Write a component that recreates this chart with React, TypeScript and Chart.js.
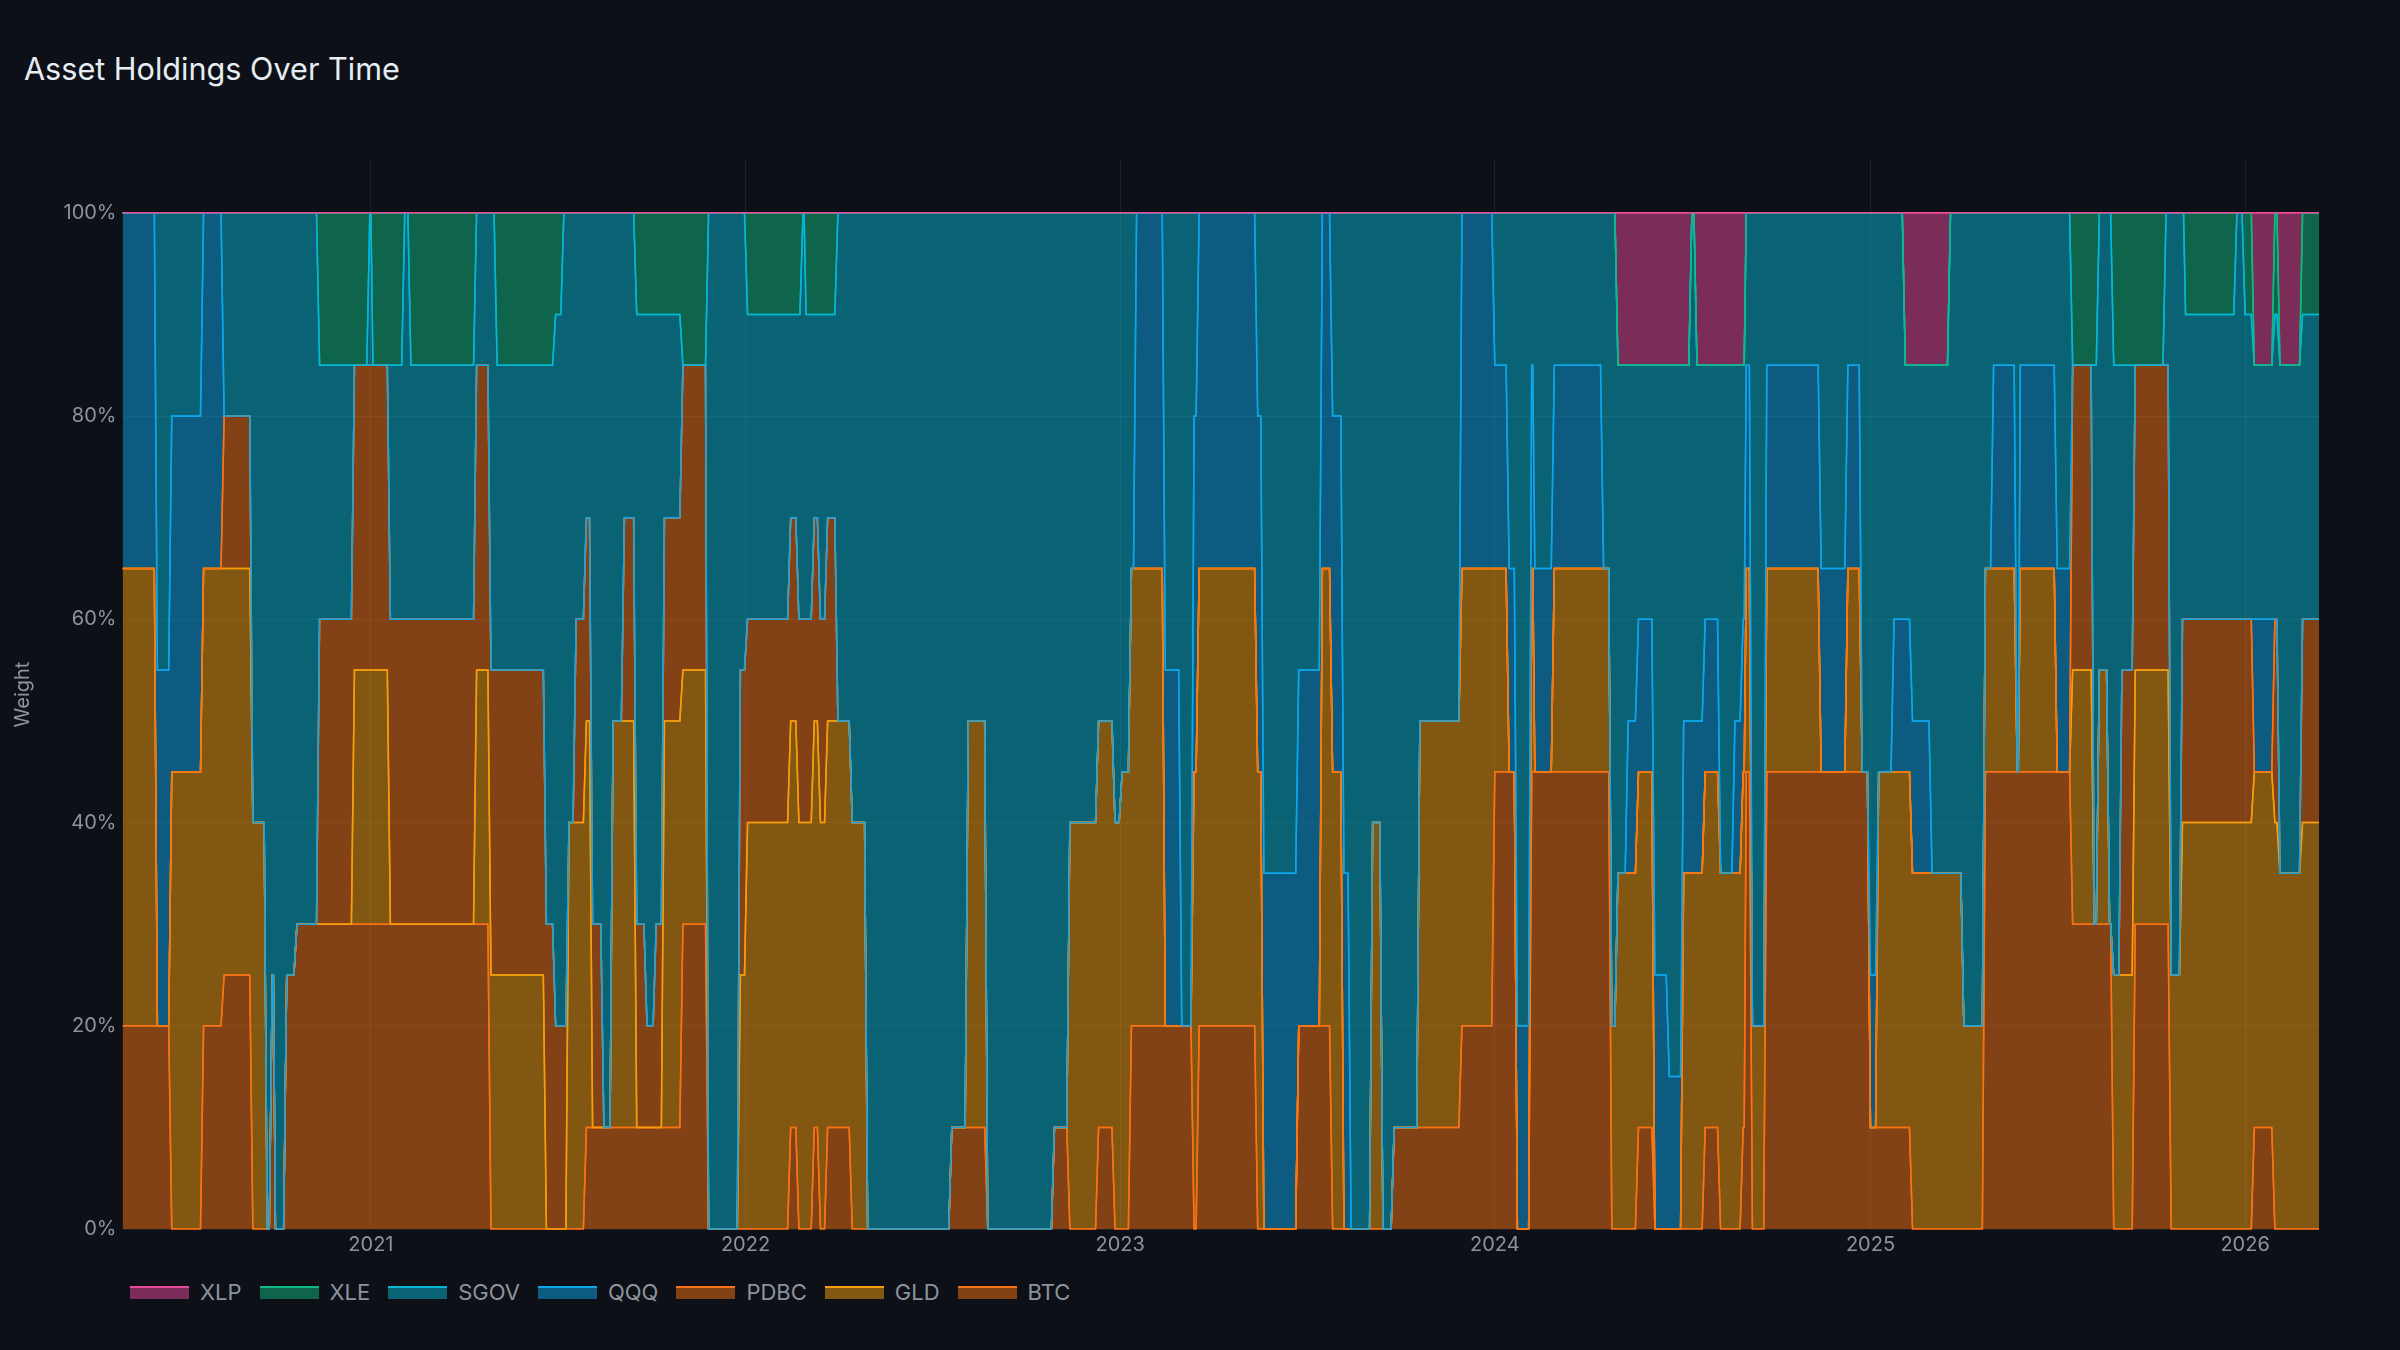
import React, { useEffect, useRef } from "react";
import Chart from "chart.js/auto";

// Each holding period starts on one of these dates and lasts until the next one.
const periodStarts = [
  "2020-05-04", "2020-06-07", "2020-06-21", "2020-07-22", "2020-08-11", "2020-09-08", "2020-09-22", "2020-09-27", "2020-09-30", "2020-10-11",
  "2020-10-21", "2020-11-12", "2020-12-16", "2020-12-31", "2021-01-03", "2021-01-20", "2021-02-03", "2021-02-09", "2021-04-14", "2021-04-28",
  "2021-05-04", "2021-06-21", "2021-06-30", "2021-07-08", "2021-07-13", "2021-07-20", "2021-07-30", "2021-08-05", "2021-08-16", "2021-08-25",
  "2021-09-05", "2021-09-17", "2021-09-27", "2021-10-06", "2021-10-14", "2021-11-01", "2021-11-26", "2021-12-27", "2022-01-03", "2022-02-14",
  "2022-02-22", "2022-02-26", "2022-03-01", "2022-03-09", "2022-03-15", "2022-03-22", "2022-04-01", "2022-04-15", "2022-04-30", "2022-07-21",
  "2022-08-06", "2022-08-25", "2022-10-29", "2022-11-13", "2022-12-11", "2022-12-27", "2023-01-03", "2023-01-12", "2023-01-17", "2023-02-14",
  "2023-03-02", "2023-03-14", "2023-03-19", "2023-05-15", "2023-05-21", "2023-06-24", "2023-07-17", "2023-07-27", "2023-08-07", "2023-08-14",
  "2023-09-04", "2023-09-14", "2023-09-25", "2023-10-20", "2023-11-30", "2024-01-01", "2024-01-15", "2024-01-23", "2024-02-06", "2024-02-09",
  "2024-02-28", "2024-04-16", "2024-04-24", "2024-04-30", "2024-05-10", "2024-05-20", "2024-06-05", "2024-06-19", "2024-07-03", "2024-07-11",
  "2024-07-16", "2024-07-24", "2024-08-08", "2024-08-22", "2024-08-30", "2024-09-02", "2024-09-08", "2024-09-22", "2024-11-14", "2024-12-10",
  "2024-12-24", "2025-01-01", "2025-01-09", "2025-01-24", "2025-02-04", "2025-02-11", "2025-03-02", "2025-03-20", "2025-04-02", "2025-04-23",
  "2025-05-01", "2025-05-24", "2025-05-27", "2025-07-02", "2025-07-17", "2025-08-07", "2025-08-12", "2025-08-22", "2025-08-26", "2025-09-03",
  "2025-09-16", "2025-10-16", "2025-10-21", "2025-11-01", "2025-11-04", "2025-12-24", "2026-01-01", "2026-01-10", "2026-01-30", "2026-02-04",
  "2026-02-26",
];
const lastDay = "2026-03-14";

// weights in % for each period (same order as periodStarts)
const BTC = [
  20, 20, 0, 20, 25, 0, 0, 25, 0, 25,
  30, 30, 30, 30, 30, 30, 30, 30, 30, 0,
  0, 0, 0, 0, 0, 0, 10, 10, 10, 10,
  10, 10, 10, 10, 10, 30, 0, 0, 0, 10,
  0, 0, 0, 10, 0, 10, 10, 0, 0, 10,
  10, 0, 10, 0, 10, 0, 0, 20, 20, 20,
  20, 0, 20, 0, 0, 20, 20, 0, 0, 0,
  0, 0, 10, 10, 20, 45, 45, 0, 45, 45,
  45, 45, 0, 0, 0, 10, 0, 0, 0, 0,
  0, 10, 0, 0, 10, 45, 0, 45, 45, 45,
  45, 10, 10, 10, 10, 0, 0, 0, 0, 45,
  45, 45, 45, 45, 30, 30, 30, 30, 0, 0,
  30, 30, 0, 0, 0, 0, 0, 10, 0, 0,
  0,
];
const GLD = [
  45, 0, 45, 45, 40, 40, 0, 0, 0, 0,
  0, 0, 25, 25, 25, 0, 0, 0, 25, 25,
  25, 0, 0, 0, 40, 40, 40, 0, 0, 40,
  40, 0, 0, 0, 40, 25, 0, 25, 40, 40,
  40, 40, 40, 40, 40, 40, 40, 40, 0, 0,
  40, 0, 0, 40, 40, 40, 45, 45, 45, 0,
  0, 45, 45, 45, 0, 0, 45, 45, 0, 0,
  40, 0, 0, 40, 45, 20, 0, 0, 20, 0,
  20, 20, 20, 35, 35, 35, 0, 0, 35, 35,
  35, 35, 35, 35, 35, 20, 20, 20, 0, 20,
  0, 0, 35, 35, 35, 35, 35, 35, 20, 20,
  20, 0, 20, 0, 25, 0, 25, 0, 25, 25,
  25, 25, 25, 40, 40, 40, 40, 35, 40, 35,
  40,
];
const PDBC = [
  0, 0, 0, 0, 15, 0, 0, 0, 0, 0,
  0, 30, 30, 30, 30, 30, 30, 30, 30, 30,
  30, 30, 20, 20, 0, 20, 20, 20, 0, 0,
  20, 20, 10, 20, 20, 30, 0, 30, 20, 20,
  20, 20, 20, 20, 20, 20, 0, 0, 0, 0,
  0, 0, 0, 0, 0, 0, 0, 0, 0, 0,
  0, 0, 0, 0, 0, 0, 0, 0, 0, 0,
  0, 0, 0, 0, 0, 0, 0, 0, 0, 0,
  0, 0, 0, 0, 0, 0, 0, 0, 0, 0,
  0, 0, 0, 0, 0, 0, 0, 0, 0, 0,
  0, 0, 0, 0, 0, 0, 0, 0, 0, 0,
  0, 0, 0, 0, 30, 0, 0, 0, 0, 30,
  30, 30, 0, 20, 20, 20, 20, 0, 20, 0,
  20,
];
const QQQ = [
  35, 35, 35, 35, 0, 0, 0, 0, 0, 0,
  0, 0, 0, 0, 0, 0, 0, 0, 0, 0,
  0, 0, 0, 0, 0, 0, 0, 0, 0, 0,
  0, 0, 0, 0, 0, 0, 0, 0, 0, 0,
  0, 0, 0, 0, 0, 0, 0, 0, 0, 0,
  0, 0, 0, 0, 0, 0, 0, 0, 35, 35,
  0, 35, 35, 35, 35, 35, 35, 35, 35, 0,
  0, 0, 0, 0, 35, 20, 20, 20, 20, 20,
  20, 0, 0, 0, 15, 15, 25, 15, 15, 15,
  15, 15, 0, 15, 15, 20, 0, 20, 20, 20,
  0, 15, 0, 15, 15, 15, 0, 0, 0, 0,
  20, 0, 20, 20, 0, 0, 0, 0, 0, 0,
  0, 0, 0, 0, 0, 0, 0, 15, 0, 0,
  0,
];
const SGOV = [
  0, 45, 20, 0, 20, 60, 100, 75, 100, 75,
  70, 25, 0, 15, 0, 25, 40, 25, 15, 45,
  30, 55, 70, 80, 60, 40, 30, 70, 90, 50,
  30, 60, 70, 60, 20, 0, 100, 45, 30, 20,
  30, 40, 30, 20, 30, 20, 50, 60, 100, 90,
  50, 100, 90, 60, 50, 60, 55, 35, 0, 45,
  80, 20, 0, 20, 65, 45, 0, 20, 65, 100,
  60, 100, 90, 50, 0, 15, 35, 80, 15, 35,
  15, 35, 80, 50, 35, 25, 60, 70, 35, 50,
  35, 25, 50, 35, 25, 15, 80, 15, 35, 15,
  55, 75, 55, 40, 25, 35, 50, 65, 80, 35,
  15, 55, 15, 35, 0, 55, 45, 70, 60, 30,
  0, 15, 75, 40, 30, 40, 30, 25, 30, 50,
  30,
];
const XLE = [
  0, 0, 0, 0, 0, 0, 0, 0, 0, 0,
  0, 15, 15, 0, 15, 15, 0, 15, 0, 0,
  15, 15, 10, 0, 0, 0, 0, 0, 0, 0,
  0, 10, 10, 10, 10, 15, 0, 0, 10, 10,
  10, 0, 10, 10, 10, 10, 0, 0, 0, 0,
  0, 0, 0, 0, 0, 0, 0, 0, 0, 0,
  0, 0, 0, 0, 0, 0, 0, 0, 0, 0,
  0, 0, 0, 0, 0, 0, 0, 0, 0, 0,
  0, 0, 0, 0, 0, 0, 0, 0, 0, 0,
  0, 0, 0, 0, 0, 0, 0, 0, 0, 0,
  0, 0, 0, 0, 0, 0, 0, 0, 0, 0,
  0, 0, 0, 0, 15, 15, 0, 0, 15, 15,
  15, 0, 0, 0, 10, 0, 10, 0, 10, 0,
  10,
];
const XLP = [
  0, 0, 0, 0, 0, 0, 0, 0, 0, 0,
  0, 0, 0, 0, 0, 0, 0, 0, 0, 0,
  0, 0, 0, 0, 0, 0, 0, 0, 0, 0,
  0, 0, 0, 0, 0, 0, 0, 0, 0, 0,
  0, 0, 0, 0, 0, 0, 0, 0, 0, 0,
  0, 0, 0, 0, 0, 0, 0, 0, 0, 0,
  0, 0, 0, 0, 0, 0, 0, 0, 0, 0,
  0, 0, 0, 0, 0, 0, 0, 0, 0, 0,
  0, 0, 0, 15, 15, 15, 15, 15, 15, 0,
  15, 15, 15, 15, 15, 0, 0, 0, 0, 0,
  0, 0, 0, 0, 15, 15, 15, 0, 0, 0,
  0, 0, 0, 0, 0, 0, 0, 0, 0, 0,
  0, 0, 0, 0, 0, 0, 0, 15, 0, 15,
  0,
];

const yearTicks = [2021, 2022, 2023, 2024, 2025, 2026];
const weightTicks = [0, 20, 40, 60, 80, 100];

// stacking order, bottom to top
const tickers = ["BTC", "GLD", "PDBC", "QQQ", "SGOV", "XLE", "XLP"];
const weights = [BTC, GLD, PDBC, QQQ, SGOV, XLE, XLP];
const colors = ["#f97316", "#f59e0b", "#f97316", "#0ea5e9", "#06b6d4", "#10b981", "#ec4899"];

const BG = "#0d1117";
const MUTED = "#8b949e";
const FONT = "Inter, 'Noto Sans', sans-serif";
const DAY = 86400000;

const toMs = (s: string) => Date.parse(s + "T00:00:00Z");
const starts = periodStarts.map(toMs);
const ends = starts.map((s, i) =>
  i + 1 < starts.length ? Math.max(s + DAY, starts[i + 1] - 3 * DAY) : toMs(lastDay)
);

const fillOf = (hex: string) => hex + "80";

// draw the border lines again so the upper layers sit on top
const linesOnTop = {
  id: "linesOnTop",
  afterDatasetsDraw(chart: any) {
    const { ctx, chartArea } = chart;
    ctx.save();
    ctx.beginPath();
    ctx.rect(chartArea.left, chartArea.top - 2, chartArea.right - chartArea.left, chartArea.bottom - chartArea.top + 3);
    ctx.clip();
    chart.data.datasets.forEach((_: any, i: number) => {
      const meta = chart.getDatasetMeta(i);
      if (meta.dataset) meta.dataset.draw(ctx, chartArea);
    });
    ctx.restore();
  },
};

const App: React.FC = () => {
  const canvasRef = useRef<HTMLCanvasElement | null>(null);
  const chartRef = useRef<Chart | null>(null);

  useEffect(() => {
    document.body.style.margin = "0";
    document.body.style.background = BG;
    if (!canvasRef.current) return;
    const ctx = canvasRef.current.getContext("2d");
    if (!ctx) return;
    if (chartRef.current) chartRef.current.destroy();

    const datasets = tickers.map((name, k) => {
      const pts: { x: number; y: number }[] = [];
      weights[k].forEach((v, i) => {
        pts.push({ x: starts[i], y: v });
        pts.push({ x: ends[i], y: v });
      });
      return {
        label: name,
        data: pts,
        borderColor: colors[k],
        backgroundColor: fillOf(colors[k]),
        borderWidth: 1.5,
        fill: k === 0 ? "origin" : "-1",
        pointRadius: 0,
        tension: 0,
      };
    });

    chartRef.current = new Chart(ctx, {
      type: "line",
      data: { datasets } as any,
      options: {
        animation: false,
        responsive: true,
        maintainAspectRatio: false,
        layout: { padding: { top: 10, right: 11, left: 0, bottom: 0 } },
        plugins: {
          legend: { display: false },
          tooltip: { enabled: false },
        },
        scales: {
          x: {
            type: "linear",
            min: starts[0],
            max: toMs(lastDay),
            afterBuildTicks: (scale: any) => {
              scale.ticks = yearTicks.map((y) => ({ value: Date.UTC(y, 0, 1) }));
            },
            afterFit: (scale: any) => {
              scale.height = 31;
              scale.paddingLeft = 0;
              scale.paddingRight = 0;
            },
            ticks: {
              autoSkip: false,
              maxRotation: 0,
              padding: 4,
              color: MUTED,
              font: { family: FONT, size: 20 },
              callback: (v: any) => String(new Date(Number(v)).getUTCFullYear()),
            },
            grid: { color: "rgba(255,255,255,0.07)", drawTicks: false },
            border: { display: false },
          },
          y: {
            stacked: true,
            min: 0,
            max: 105.2,
            afterBuildTicks: (scale: any) => {
              scale.ticks = weightTicks.map((v) => ({ value: v }));
            },
            afterFit: (scale: any) => {
              scale.width = 122.5;
              scale.paddingTop = 0;
              scale.paddingBottom = 0;
            },
            ticks: {
              padding: 6,
              color: MUTED,
              font: { family: FONT, size: 20 },
              callback: (v: any) => v + "%",
            },
            title: {
              display: true,
              text: "Weight",
              color: MUTED,
              font: { family: FONT, size: 20 },
              padding: { top: 11, bottom: 0 },
            },
            grid: { color: "rgba(255,255,255,0.07)", drawTicks: false },
            border: { display: false },
          },
        },
      } as any,
      plugins: [linesOnTop],
    });

    return () => {
      if (chartRef.current) {
        chartRef.current.destroy();
        chartRef.current = null;
      }
    };
  }, []);

  const legendOrder = tickers.map((_, k) => k).reverse();

  return (
    <div style={{ position: "relative", width: 2400, height: 1350, background: BG, fontFamily: FONT, overflow: "hidden" }}>
      <div
        style={{
          position: "absolute",
          left: 24,
          top: 53,
          fontSize: 30.6,
          lineHeight: "31px",
          fontWeight: 400,
          color: "#e6edf3",
          whiteSpace: "nowrap",
        }}
      >
        Asset Holdings Over Time
      </div>
      <div style={{ position: "absolute", left: 0, top: 150, width: 2330, height: 1110 }}>
        <canvas ref={canvasRef}></canvas>
      </div>
      <div
        style={{
          position: "absolute",
          left: 130,
          top: 1280,
          height: 24,
          display: "flex",
          alignItems: "center",
          fontSize: 22,
          color: MUTED,
          whiteSpace: "nowrap",
        }}
      >
        {legendOrder.map((k) => (
          <div key={tickers[k]} style={{ display: "flex", alignItems: "center", marginRight: 18 }}>
            <span
              style={{
                display: "inline-block",
                boxSizing: "border-box",
                width: 59,
                height: 13,
                marginRight: 11,
                background: fillOf(colors[k]),
                borderTop: "2px solid " + colors[k],
              }}
            />
            <span>{tickers[k]}</span>
          </div>
        ))}
      </div>
    </div>
  );
};

export default App;
